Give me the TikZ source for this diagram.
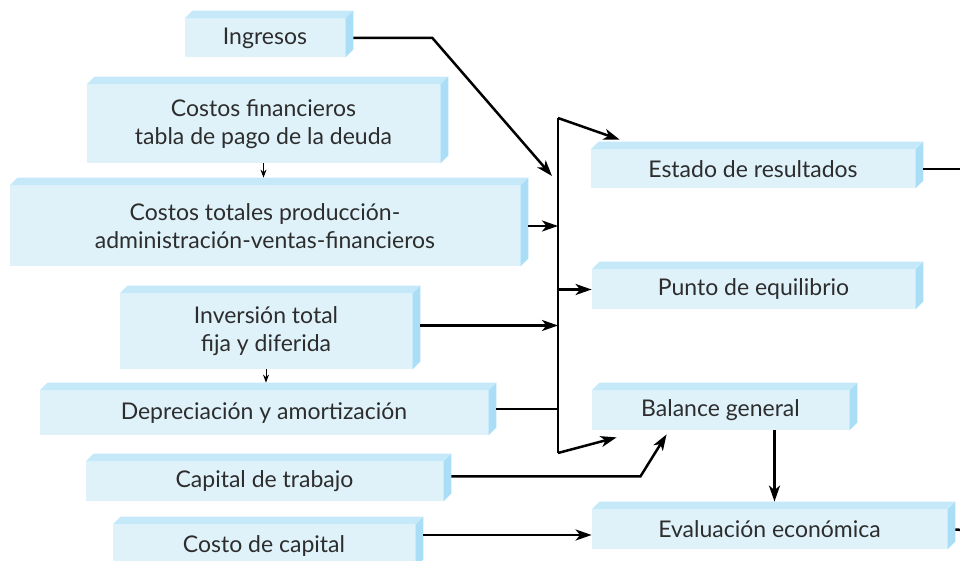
\documentclass[tikz,border=0pt]{standalone}
\usepackage{fontspec}
\setmainfont{Lato}
\usepackage{xcolor}
\usetikzlibrary{arrows.meta}
\definecolor{cara}{RGB}{223,242,250}
\definecolor{tapa}{RGB}{197,233,249}
\definecolor{lado}{RGB}{170,222,247}
\definecolor{texto}{RGB}{45,45,45}
\tikzset{
  caja/.style={fill=cara, inner sep=0pt, align=center, text=texto,
    font=\fontsize{11.5}{14}\selectfont},
  linea/.style={line width=1.25pt},
  flecha/.style={line width=1.25pt, -{Stealth[length=8pt,width=5.5pt,inset=2.2pt]}},
  flechita/.style={line width=0.5pt, -{Stealth[length=4pt,width=3pt]}}
}
\begin{document}
\begin{tikzpicture}[x=0.5pt,y=-0.5pt]
\useasboundingbox (0,0) rectangle (960,561);
% front faces (1 unit = 1 px of the sketch)
\node[caja,minimum width=80pt,minimum height=19pt] (ing) at (265,38) {Ingresos};
\node[caja,minimum width=176.5pt,minimum height=39pt] (fin) at (263.5,124)
  {Costos financieros\\tabla de pago de la deuda};
\node[caja,minimum width=255pt,minimum height=40pt] (tot) at (265,226)
  {Costos totales producción-\\administración-ventas-financieros};
\node[caja,minimum width=146pt,minimum height=37.5pt] (inv) at (266,331.5)
  {Inversión total\\fija y diferida};
\node[caja,minimum width=224pt,minimum height=22pt] (dep) at (264,413) {Depreciación y amortización};
\node[caja,minimum width=178.5pt,minimum height=19.5pt] (cap) at (264.5,481.5) {Capital de trabajo};
\node[caja,minimum width=151pt,minimum height=21pt] (cos) at (264,546) {Costo de capital};
\node[caja,minimum width=162pt,minimum height=19pt] (est) at (753,169) {Estado de resultados};
\node[caja,minimum width=161.5pt,minimum height=19.5pt] (pun) at (753.5,289.5) {Punto de equilibrio};
\node[caja,minimum width=128.5pt,minimum height=19.5pt] (bal) at (720.5,410.5) {Balance general};
\node[caja,minimum width=177.5pt,minimum height=19.5pt] (eva) at (769.5,529.5) {Evaluación económica};
% top and side of every box
\foreach \n in {ing,fin,tot,inv,dep,cap,cos,est,pun,bal,eva}{
  \fill[tapa] (\n.north west) -- ++(8,-8) -- ([shift={(8,-8)}]\n.north east) -- (\n.north east) -- cycle;
  \fill[lado] (\n.north east) -- ++(8,-8) -- ([shift={(8,-8)}]\n.south east) -- (\n.south east) -- cycle;
}
% collector line
\coordinate (bsup) at (558,118);
\coordinate (binf) at (558,453);
\draw[linea] (bsup) -- (binf);
\draw[flecha] (bsup) -- ([shift={(29,-10)}]est.north west);
\draw[flecha] (binf) -- ([shift={(25,7)}]bal.south west);
% inputs
\draw[flecha] ([xshift=4pt]ing.east) -- ++(79,0) -- ([shift={(-6,58)}]bsup);
\draw[flecha] ([xshift=4pt]tot.east) -- (tot.east -| bsup);
\coordinate (inv-s) at ([shift={(8,-6)}]inv.east);
\draw[flecha] (inv-s) -- (inv-s -| bsup);
\coordinate (dep-s) at ([shift={(8,-4)}]dep.east);
\draw[linea] (dep-s) -- (dep-s -| bsup);
\draw[flecha] (bsup |- pun.west) -- (pun.west);
\draw[flecha] ([shift={(8,-5)}]cap.east) -- ++(189,0) -- ([shift={(75,4)}]bal.south west);
\coordinate (cos-s) at ([shift={(8,-11)}]cos.east);
\draw[flecha] (cos-s) -- (cos-s -| eva.west);
% small arrows between stacked boxes
\coordinate (tot-t) at ([yshift=4pt]tot.north);
\draw[flechita] (fin.south) -- (fin.south |- tot-t);
\coordinate (dep-t) at ([yshift=4pt]dep.north);
\draw[flechita] (inv.south) -- (inv.south |- dep-t);
% balance to evaluation
\coordinate (be) at ([xshift=27pt]bal.south);
\coordinate (eva-t) at ([yshift=4pt]eva.north);
\draw[flecha] (be) -- (be |- eva-t);
% outputs leaving the picture
\coordinate (sal1) at (962,169);
\coordinate (sal2) at (962,530);
\draw[linea] ([xshift=4pt]est.east) -- (sal1);
\draw[linea] ([xshift=4pt]eva.east) -- (sal2);
\end{tikzpicture}
\end{document}
